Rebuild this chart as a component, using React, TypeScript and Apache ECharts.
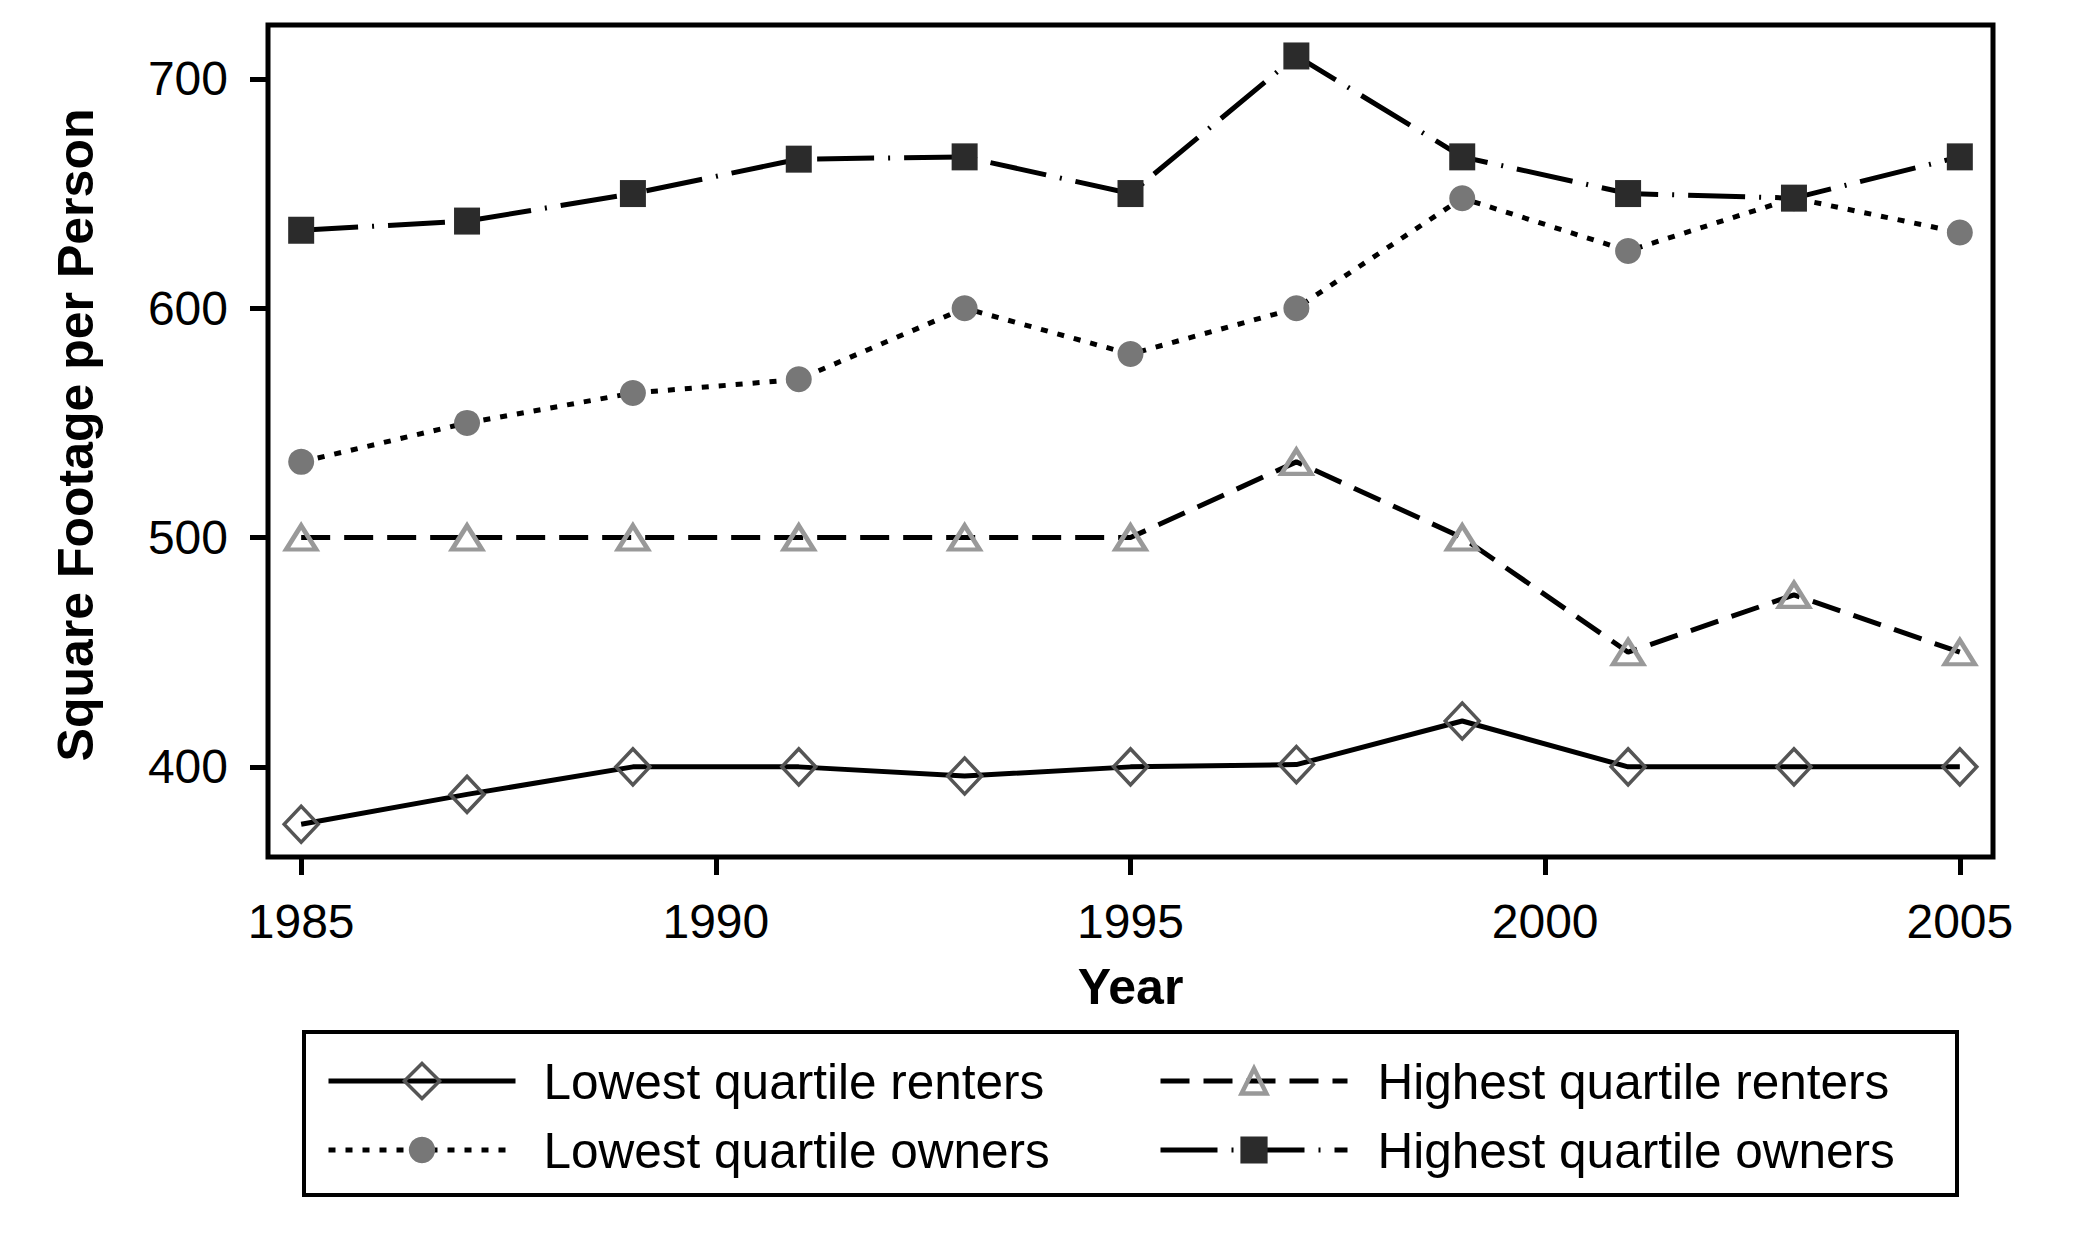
import React, { useEffect, useRef } from "react";
import * as echarts from "echarts";

const years = [1985, 1987, 1989, 1991, 1993, 1995, 1997, 1999, 2001, 2003, 2005];
const lowestRenters = [375, 388, 400, 400, 396, 400, 401, 420, 400, 400, 400];
const highestRenters = [500, 500, 500, 500, 500, 500, 533, 500, 450, 475, 450];
const lowestOwners = [533, 550, 563, 569, 600, 580, 600, 648, 625, 648, 633];
const highestOwners = [634, 638, 650, 665, 666, 650, 710, 666, 650, 648, 666];
const xTicks = [1985, 1990, 1995, 2000, 2005];
const yTicks = [400, 500, 600, 700];
const seriesNames = [
  "Lowest quartile renters",
  "Highest quartile renters",
  "Lowest quartile owners",
  "Highest quartile owners",
];

const FONT = "'Liberation Sans', Arial, Helvetica, sans-serif";
const FS = 48;
const FS_TITLE = 50;
const FS_LEGEND = 49.5;

const pairs = (vals: number[]) => years.map((y, i) => [y, vals[i]]);

const DASH = [29, 14];
const DOT = [7, 10];
const DASHDOT = [57, 14, 2, 14];

export default function App() {
  const ref = useRef<HTMLDivElement>(null);
  useEffect(() => {
    if (!ref.current) return;
    const chart = echarts.init(ref.current, null, { renderer: "svg" });
    const legendBase = (
      name: string,
      left: number,
      centerY: number,
      itemHeight: number,
      lineType: any,
      lineWidth: number,
      borderWidth: number,
      textPad: number
    ) => ({
      data: [name],
      left,
      top: centerY - 23,
      orient: "horizontal",
      padding: 0,
      itemWidth: 187,
      itemHeight,
      selectedMode: false,
      lineStyle: { width: lineWidth, type: lineType, color: "#000" },
      itemStyle: { borderWidth },
      textStyle: { fontFamily: FONT, fontSize: FS_LEGEND, color: "#000", padding: [0, 0, 0, textPad] },
    });
    chart.setOption({
      animation: false,
      backgroundColor: "#fff",
      grid: {
        left: 268,
        top: 25,
        right: 103,
        bottom: 401,
        show: true,
        borderColor: "#000",
        borderWidth: 5,
        backgroundColor: "transparent",
      },
      xAxis: {
        type: "value",
        min: 1984.6,
        max: 2005.4,
        name: "Year",
        nameLocation: "middle",
        nameGap: 105,
        nameTextStyle: { fontFamily: FONT, fontSize: FS_TITLE, fontWeight: "bold", color: "#000" },
        axisLine: { show: false },
        axisTick: { show: true, length: 18, lineStyle: { color: "#000", width: 5 }, customValues: xTicks },
        axisLabel: {
          margin: 40,
          fontFamily: FONT,
          fontSize: FS,
          color: "#000",
          customValues: xTicks,
          formatter: (v: number) => String(v),
        },
        splitLine: { show: false },
      },
      yAxis: {
        type: "value",
        min: 360.7,
        max: 723.5,
        name: "Square Footage per Person",
        nameLocation: "middle",
        nameGap: 167,
        nameTextStyle: {
          fontFamily: FONT,
          fontSize: FS_TITLE,
          fontWeight: "bold",
          color: "#000",
          padding: [0, 0, 0, 12],
        },
        axisLine: { show: false },
        axisTick: { show: true, length: 18, lineStyle: { color: "#000", width: 5 }, customValues: yTicks },
        axisLabel: {
          margin: 40,
          fontFamily: FONT,
          fontSize: FS,
          color: "#000",
          customValues: yTicks,
          formatter: (v: number) => String(v),
        },
        splitLine: { show: false },
      },
      legend: [
        legendBase(seriesNames[0], 326, 1079, 44, "solid", 5, 3.5, 23),
        legendBase(seriesNames[1], 1158, 1079, 31, DASH, 5, 4.5, 25),
        legendBase(seriesNames[2], 326, 1148, 33, DOT, 5, 0, 23),
        legendBase(seriesNames[3], 1158, 1148, 34, DASHDOT, 5, 0, 25),
      ],
      graphic: [
        {
          type: "rect",
          shape: { x: 304, y: 1032, width: 1653, height: 163 },
          style: { fill: "none", stroke: "#000", lineWidth: 4 },
          silent: true,
        },
      ],
      series: [
        {
          name: seriesNames[0],
          type: "line",
          data: pairs(lowestRenters),
          symbol: "diamond",
          symbolSize: [34, 36],
          showAllSymbol: true,
          lineStyle: { color: "#000", width: 5, type: "solid" },
          itemStyle: { color: "none", borderColor: "#555", borderWidth: 3.5 },
        },
        {
          name: seriesNames[1],
          type: "line",
          data: pairs(highestRenters),
          symbol: "triangle",
          symbolSize: [30, 24],
          showAllSymbol: true,
          lineStyle: { color: "#000", width: 5, type: DASH },
          itemStyle: { color: "none", borderColor: "#999", borderWidth: 4.5 },
        },
        {
          name: seriesNames[2],
          type: "line",
          data: pairs(lowestOwners),
          symbol: "circle",
          symbolSize: 26,
          showAllSymbol: true,
          lineStyle: { color: "#000", width: 5, type: DOT },
          itemStyle: { color: "#777", borderWidth: 0 },
        },
        {
          name: seriesNames[3],
          type: "line",
          data: pairs(highestOwners),
          symbol: "rect",
          symbolSize: [26, 27],
          showAllSymbol: true,
          lineStyle: { color: "#000", width: 5, type: DASHDOT },
          itemStyle: { color: "#2b2b2b", borderWidth: 0 },
        },
      ],
    });
    return () => chart.dispose();
  }, []);
  return (
    <div
      ref={ref}
      style={{ position: "fixed", left: 0, top: 0, width: 2096, height: 1258, background: "#fff" }}
    />
  );
}
